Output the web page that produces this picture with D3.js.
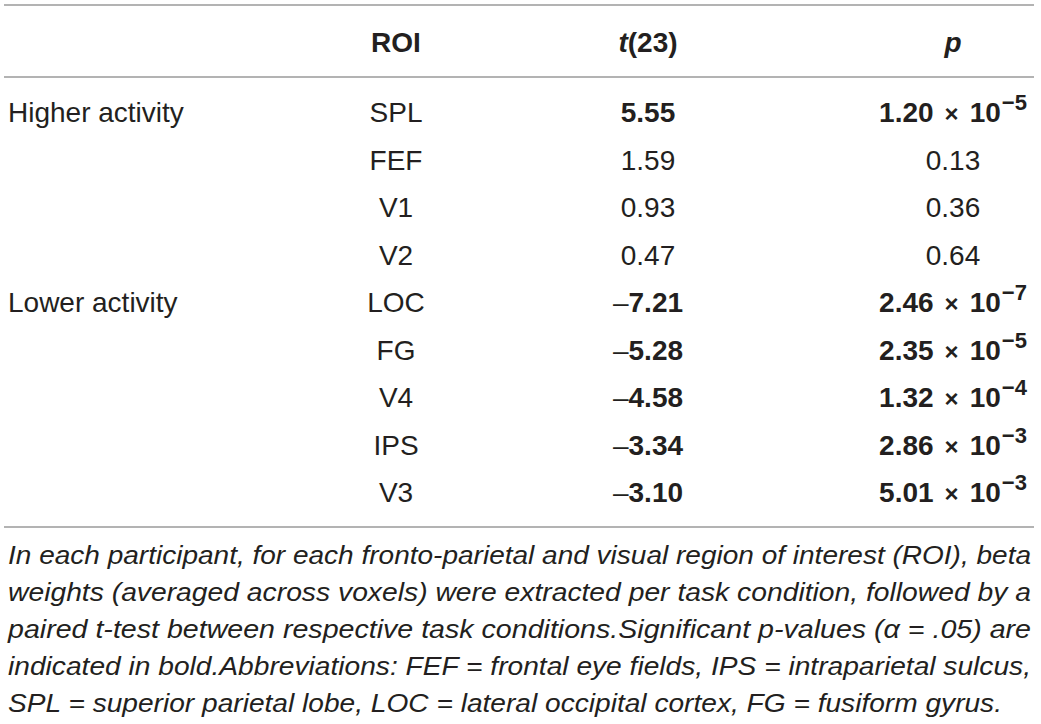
<!DOCTYPE html>
<html>
<head>
<meta charset="utf-8">
<script src="https://cdn.jsdelivr.net/npm/d3@7"></script>
<style>
    body { margin: 0; background: #fff; }
    svg text { font-family: "Liberation Sans", Arial, Helvetica, sans-serif; fill: #231f20; }
    .cell { font-size: 28px; }
    .head { font-size: 28px; font-weight: bold; }
    .note { font-size: 26px; font-style: italic; }
</style>
</head>
<body>
<div id="chart"></div>
<script>
// Table data
const groups = ["Higher activity", "", "", "", "Lower activity", "", "", "", ""];
const rois = ["SPL", "FEF", "V1", "V2", "LOC", "FG", "V4", "IPS", "V3"];
const tValues = [5.55, 1.59, 0.93, 0.47, -7.21, -5.28, -4.58, -3.34, -3.10];
const pValues = [1.20e-5, 0.13, 0.36, 0.64, 2.46e-7, 2.35e-5, 1.32e-4, 2.86e-3, 5.01e-3];
const alpha = 0.05;

const noteLines = [
    "In each participant, for each fronto-parietal and visual region of interest (ROI), beta",
    "weights (averaged across voxels) were extracted per task condition, followed by a",
    "paired t-test between respective task conditions.Significant p-values (\u03b1 = .05) are",
    "indicated in bold.Abbreviations: FEF = frontal eye fields, IPS = intraparietal sulcus,",
    "SPL = superior parietal lobe, LOC = lateral occipital cortex, FG = fusiform gyrus."
];

const width = 1041;
const height = 724;

const svg = d3.select("#chart")
    .append("svg")
    .attr("width", width)
    .attr("height", height);

// Column x positions (group column is left aligned, the rest centered)
const xScale = d3.scaleOrdinal()
    .domain(["group", "roi", "t", "p"])
    .range([8, 396, 648, 953]);

// Row baselines
const yScale = d3.scaleLinear()
    .domain([0, rois.length - 1])
    .range([122, 502]);

const rules = [5, 77, 527];
svg.selectAll("line.rule")
    .data(rules)
    .enter()
    .append("line")
    .attr("class", "rule")
    .attr("x1", 4)
    .attr("x2", 1034)
    .attr("y1", d => d)
    .attr("y2", d => d)
    .attr("stroke", "#9a9a9a")
    .attr("stroke-width", 1.5);

// Header
const headY = 52;
svg.append("text")
    .attr("class", "head")
    .attr("x", xScale("roi"))
    .attr("y", headY)
    .attr("text-anchor", "middle")
    .text("ROI");

const tHead = svg.append("text")
    .attr("class", "head")
    .attr("x", xScale("t"))
    .attr("y", headY)
    .attr("text-anchor", "middle");
tHead.append("tspan").attr("font-style", "italic").text("t");
tHead.append("tspan").text("(23)");

svg.append("text")
    .attr("class", "head")
    .attr("x", xScale("p"))
    .attr("y", headY)
    .attr("text-anchor", "middle")
    .attr("font-style", "italic")
    .text("p");

const rows = rois.map((r, i) => ({
    i: i,
    group: groups[i],
    roi: r,
    t: tValues[i],
    p: pValues[i],
    sig: pValues[i] < alpha
}));

svg.selectAll("text.group")
    .data(rows.filter(d => d.group !== ""))
    .enter()
    .append("text")
    .attr("class", "cell group")
    .attr("x", xScale("group"))
    .attr("y", d => yScale(d.i))
    .text(d => d.group);

svg.selectAll("text.roi")
    .data(rows)
    .enter()
    .append("text")
    .attr("class", "cell roi")
    .attr("x", xScale("roi"))
    .attr("y", d => yScale(d.i))
    .attr("text-anchor", "middle")
    .text(d => d.roi);

const fmt2 = d3.format(".2f");

const tCells = svg.selectAll("text.tval")
    .data(rows)
    .enter()
    .append("text")
    .attr("class", "cell tval")
    .attr("x", xScale("t"))
    .attr("y", d => yScale(d.i))
    .attr("text-anchor", "middle")
    .attr("font-weight", d => d.sig ? "bold" : "normal");

tCells.each(function(d) {
    const el = d3.select(this);
    if (d.t < 0) el.append("tspan").attr("font-weight", "normal").text("\u2013");
    el.append("tspan").text(fmt2(Math.abs(d.t)));
});

const pCells = svg.selectAll("text.pval")
    .data(rows)
    .enter()
    .append("text")
    .attr("class", "cell pval")
    .attr("x", xScale("p"))
    .attr("y", d => yScale(d.i))
    .attr("text-anchor", "middle")
    .attr("font-weight", d => d.sig ? "bold" : "normal");

pCells.each(function(d) {
    const el = d3.select(this);
    if (d.p >= 0.01) {
        el.text(fmt2(d.p));
        return;
    }
    const exp = Math.floor(Math.log10(d.p));
    const mant = d.p / Math.pow(10, exp);
    el.append("tspan").text(fmt2(mant));
    el.append("tspan").attr("dx", 11).attr("font-size", "24px").text("\u00d7");
    el.append("tspan").attr("dx", 11).text("10");
    el.append("tspan")
        .attr("font-size", "22px")
        .attr("dx", 1)
        .attr("dy", -12)
        .text("\u2212" + Math.abs(exp));
});

// Footnote
svg.selectAll("text.note")
    .data(noteLines)
    .enter()
    .append("text")
    .attr("class", "note")
    .attr("x", 8)
    .attr("y", (d, i) => 564 + i * 37)
    .attr("textLength", (d, i) => i < noteLines.length - 1 ? 1023 : 994)
    .attr("lengthAdjust", "spacingAndGlyphs")
    .text(d => d);
</script>
</body>
</html>
